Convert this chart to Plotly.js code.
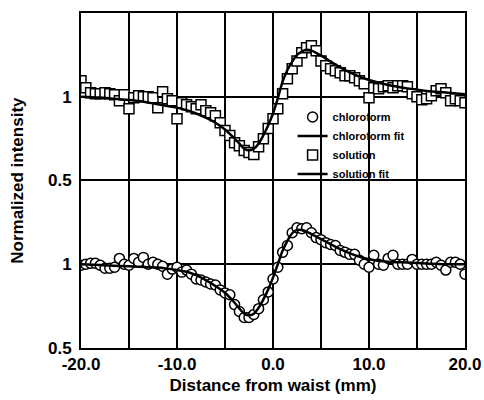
<!DOCTYPE html>
<html>
<head>
<meta charset="utf-8">
<script src="https://cdn.plot.ly/plotly-3.0.1.min.js"></script>
<style>html,body{margin:0;padding:0;background:#fff;}#chart{width:484px;height:400px;}</style>
</head>
<body>
<div id="chart"></div>
<script>
// Distance from waist (mm) for measured points
const dataX = [-20,-19.5,-19,-18.5,-18,-17.5,-17,-16.5,-16,-15.5,-15,-14.5,-14,-13.5,-13,-12.5,-12,-11.5,-11,-10.5,-10,-9.5,-9,-8.5,-8,-7.5,-7,-6.5,-6,-5.5,-5,-4.5,-4,-3.5,-3,-2.5,-2,-1.5,-1,-0.5,0,0.5,1,1.5,2,2.5,3,3.5,4,4.5,5,5.5,6,6.5,7,7.5,8,8.5,9,9.5,10,10.5,11,11.5,12,12.5,13,13.5,14,14.5,15,15.5,16,16.5,17,17.5,18,18.5,19,19.5,20];

// Chloroform (lower panel), normalized intensity
const chloroform = [0.994,1.0,1.006,1.006,0.994,0.976,0.976,0.982,1.035,1.0,0.994,1.035,1.012,1.041,1.0,1.012,1.0,0.988,0.941,0.971,0.982,0.953,0.965,0.941,0.912,0.906,0.894,0.882,0.876,0.847,0.829,0.818,0.759,0.718,0.682,0.682,0.7,0.735,0.788,0.835,0.912,0.982,1.071,1.112,1.188,1.218,1.212,1.218,1.188,1.159,1.147,1.129,1.118,1.112,1.082,1.071,1.059,1.059,1.024,1.0,0.982,1.053,1.0,0.994,1.035,1.053,1.0,1.0,1.0,1.029,1.0,1.0,1.0,1.0,1.012,0.994,0.965,1.012,1.012,1.0,0.941];

// Solution (upper panel), normalized intensity
const solution = [1.095,1.054,1.024,1.018,1.018,1.024,1.018,1.012,0.976,1.012,0.929,0.994,1.006,1.0,1.0,0.994,0.935,1.03,0.988,0.976,0.869,0.964,0.952,0.94,0.929,0.952,0.917,0.905,0.887,0.845,0.798,0.768,0.726,0.708,0.679,0.667,0.655,0.702,0.75,0.81,0.869,0.929,1.018,1.107,1.167,1.214,1.262,1.292,1.304,1.274,1.214,1.185,1.167,1.155,1.143,1.125,1.125,1.113,1.095,1.077,0.994,1.054,1.048,1.06,1.065,1.054,1.065,1.065,1.06,1.018,1.0,0.982,0.988,1.006,1.036,1.048,1.024,0.976,0.988,0.976,0.964];

// Fit curves
const fitX = [-20,-18,-16,-14,-12,-10,-9,-8,-7,-6,-5,-4,-3.5,-3,-2.5,-2,-1.5,-1,-0.5,0,0.5,1,1.5,2,2.5,3,3.5,4,5,6,7,8,9,10,12,14,16,18,20];
const chloroformFit = [1.0,0.995,0.99,0.985,0.98,0.965,0.955,0.935,0.905,0.87,0.83,0.77,0.735,0.705,0.695,0.705,0.74,0.79,0.85,0.92,1.0,1.08,1.14,1.185,1.205,1.205,1.195,1.18,1.15,1.12,1.09,1.065,1.045,1.03,1.015,1.01,1.005,1.0,1.0];
const solutionFit = [1.0,0.995,0.985,0.975,0.955,0.935,0.92,0.9,0.875,0.845,0.805,0.75,0.72,0.69,0.68,0.69,0.72,0.77,0.83,0.9,0.99,1.09,1.16,1.21,1.25,1.27,1.28,1.275,1.245,1.21,1.175,1.145,1.12,1.1,1.07,1.05,1.035,1.025,1.015];

// Axis ticks
const xTickVals = [-20,-15,-10,-5,0,5,10,15,20];
const xTickText = ['-20.0','','-10.0','','0.0','','10.0','','20.0'];
const yTickVals = [0.5,1];
const yTickText = ['0.5','1'];

const tickFont = {family:'Liberation Sans, Arial, sans-serif', size:17, color:'#000', weight:'bold'};
const titleFont = {family:'Liberation Sans, Arial, sans-serif', size:17, color:'#000', weight:'bold'};

const traces = [
  {x:dataX, y:chloroform, xaxis:'x', yaxis:'y', mode:'markers', name:'chloroform',
   marker:{symbol:'circle', size:10, color:'#fff', line:{color:'#000', width:1.5}}},
  {x:fitX, y:chloroformFit, xaxis:'x', yaxis:'y', mode:'lines', name:'chloroform fit',
   line:{color:'#000', width:2.5, shape:'spline'}},
  {x:dataX, y:solution, xaxis:'x2', yaxis:'y2', mode:'markers', name:'solution',
   marker:{symbol:'square', size:10, color:'#fff', line:{color:'#000', width:1.5}}},
  {x:fitX, y:solutionFit, xaxis:'x2', yaxis:'y2', mode:'lines', name:'solution fit',
   line:{color:'#000', width:2.5, shape:'spline'}}
];

const commonX = {range:[-20,20], tickvals:xTickVals, ticktext:xTickText, showgrid:true,
  gridcolor:'#000', gridwidth:1.5, zeroline:false, showline:true, linecolor:'#000', linewidth:2,
  ticks:'', tickfont:tickFont};
const commonY = {range:[0.5,1.5], tickvals:yTickVals, ticktext:yTickText, showgrid:true,
  gridcolor:'#000', gridwidth:1.8, zeroline:false, showline:true, linecolor:'#000', linewidth:2,
  mirror:true, ticks:'', tickfont:tickFont, ticklabelstandoff:4};

const layout = {
  width:484, height:400,
  margin:{l:81, r:19, t:13, b:52},
  paper_bgcolor:'#fff', plot_bgcolor:'#fff',
  showlegend:true,
  legend:{x:0.551, y:0.733, xanchor:'left', yanchor:'top', bgcolor:'rgba(0,0,0,0)',
    font:{family:'Liberation Sans, Arial, sans-serif', size:11, color:'#000', weight:'bold'},
    tracegroupgap:0, itemwidth:30},
  xaxis: Object.assign({}, commonX, {anchor:'y', domain:[0,1], mirror:true,
    title:{text:'Distance from waist (mm)', font:titleFont, standoff:6}}),
  xaxis2: Object.assign({}, commonX, {anchor:'y2', matches:'x', side:'top', mirror:false, showticklabels:false}),
  yaxis: Object.assign({}, commonY, {anchor:'x', domain:[0,0.5]}),
  yaxis2: Object.assign({}, commonY, {anchor:'x2', domain:[0.5,1]}),
  annotations:[{text:'Normalized intensity', xref:'paper', yref:'paper', x:-0.166, y:0.5,
    xanchor:'center', yanchor:'middle', textangle:-90, showarrow:false, font:titleFont}]
};

Plotly.newPlot('chart', traces, layout, {displayModeBar:false, staticPlot:true});
</script>
</body>
</html>
